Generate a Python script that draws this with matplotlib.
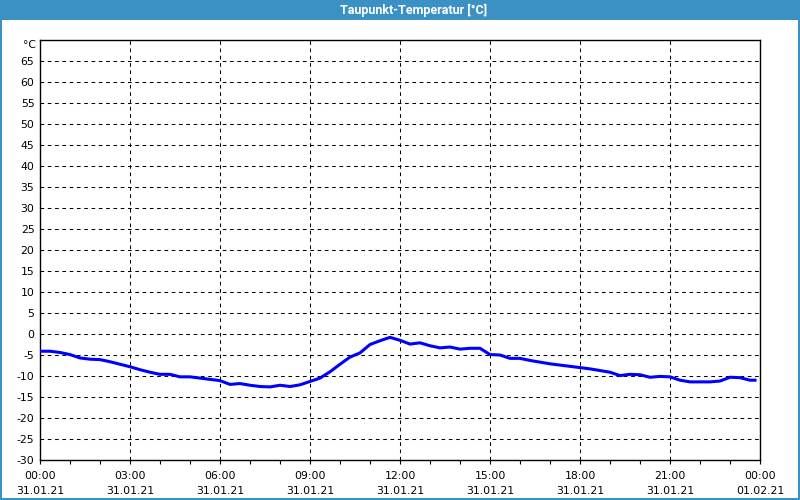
import numpy as np
import matplotlib
matplotlib.use('Agg')
import matplotlib.pyplot as plt
from matplotlib.patches import Rectangle

# ----------------------------------------------------
# Daten: Taupunkt alle 20 Minuten (31.01.21)
# ----------------------------------------------------
minutes = list(range(0, 1440, 20)) + [1430]
dewpoint = [
    -4.1, -4.1, -4.4, -4.9, -5.7, -6.0, -6.1, -6.6, -7.2, -7.8, -8.5, -9.1,
    -9.6, -9.6, -10.2, -10.2, -10.5, -10.8, -11.1, -12.0, -11.8, -12.2, -12.5, -12.6,
    -12.2, -12.5, -12.1, -11.3, -10.5, -9.0, -7.2, -5.5, -4.5, -2.5, -1.6, -0.8,
    -1.5, -2.4, -2.1, -2.8, -3.3, -3.1, -3.6, -3.4, -3.4, -4.9, -5.0, -5.8,
    -5.8, -6.3, -6.7, -7.1, -7.4, -7.7, -8.0, -8.3, -8.7, -9.1, -9.9, -9.6,
    -9.7, -10.3, -10.1, -10.2, -11.0, -11.4, -11.4, -11.4, -11.2, -10.3, -10.4, -11.0,
    -11.0,
]

hours = np.array(minutes) / 60.0

tick_hours = [0, 3, 6, 9, 12, 15, 18, 21, 24]
tick_times = ['00:00', '03:00', '06:00', '09:00', '12:00', '15:00', '18:00', '21:00', '00:00']
tick_dates = ['31.01.21'] * 8 + ['01.02.21']
y_ticks = list(range(-30, 70, 5))

title = 'Taupunkt-Temperatur [°C]'

# ----------------------------------------------------
# Figur
# ----------------------------------------------------
fig = plt.figure(figsize=(8, 5), dpi=100)
fig.patch.set_facecolor('white')

bar_color = '#3c91c4'
# Titelleiste und Rahmen
fig.patches.append(Rectangle((0, 0.96), 1, 0.04, transform=fig.transFigure,
                             facecolor=bar_color, edgecolor='none', zorder=0))
fig.patches.append(Rectangle((0.001, 0.002), 0.998, 0.996, transform=fig.transFigure,
                             facecolor='none', edgecolor=bar_color, linewidth=1.5, zorder=0))
fig.text(0.5175, 0.98, title, color='white', fontsize=9, fontweight='bold',
         family=['Roboto', 'DejaVu Sans'], ha='center', va='center')

ax = fig.add_axes([0.05, 0.08, 0.90, 0.84])
ax.plot(hours, dewpoint, color='#0000ff', linewidth=2.2, solid_joinstyle='miter', zorder=3)

ax.set_xlim(0, 24)
ax.set_ylim(-30, 70)

ax.set_xticks(tick_hours)
ax.set_xticklabels([t + '\n' + d for t, d in zip(tick_times, tick_dates)],
                   fontsize=7.8, linespacing=1.6)
ax.set_xticks(range(0, 25), minor=True)
ax.tick_params(axis='x', which='both', direction='out', length=3, width=0.8, pad=5)

ax.set_yticks(y_ticks)
ax.set_yticklabels([str(v) for v in y_ticks], fontsize=7.8)
ax.tick_params(axis='y', length=0, pad=4)
# Einheit oben an der y-Achse
ax.text(-0.006, 68.8, '°C', transform=ax.get_yaxis_transform(),
        fontsize=7.8, ha='right', va='center')

ax.grid(True, color='black', linestyle=(0, (3.5, 3.5)), linewidth=0.75)
for s in ax.spines.values():
    s.set_color('black')
    s.set_linewidth(1)

fig.savefig('out.png', dpi=100)
